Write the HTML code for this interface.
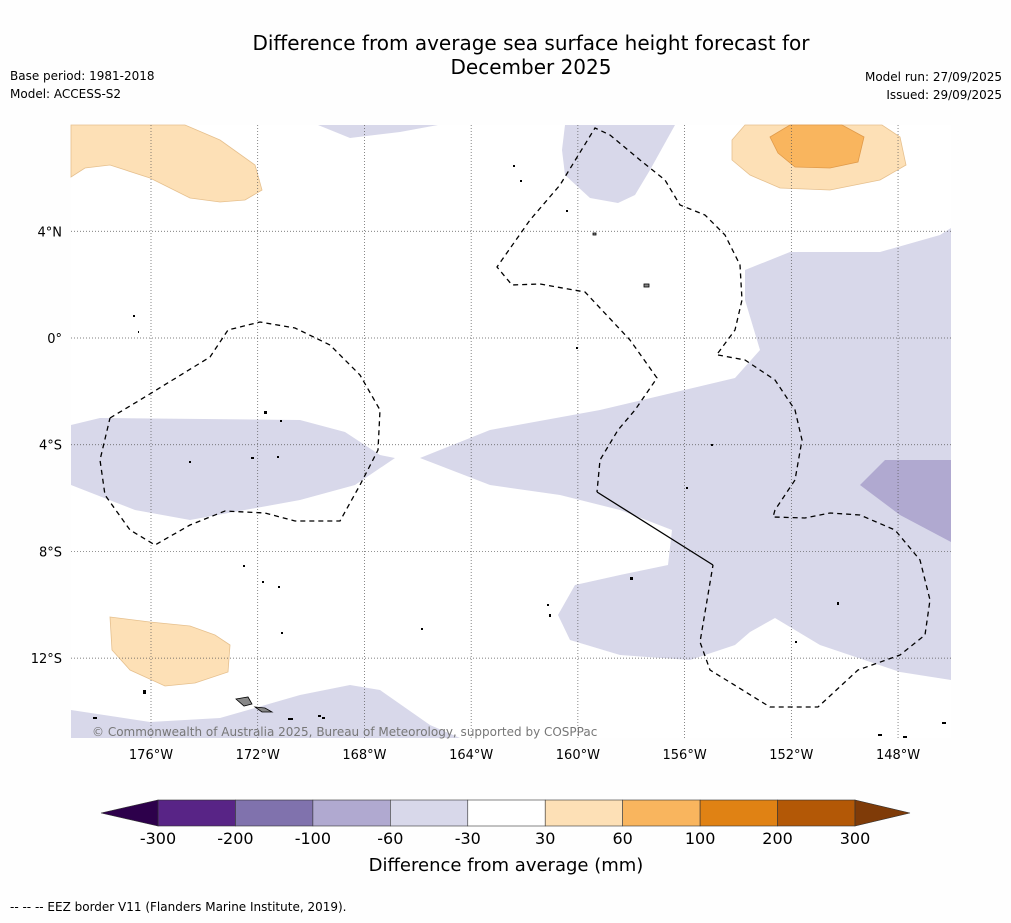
<!DOCTYPE html>
<html><head><meta charset="utf-8">
<style>
body{margin:0;background:#fefefe;font-family:"DejaVu Sans",sans-serif;}
svg text{font-family:"DejaVu Sans","Liberation Sans",sans-serif;}
</style></head>
<body>
<svg id="chart" width="1011" height="919" xmlns="http://www.w3.org/2000/svg">
<rect width="1011" height="919" fill="#fefefe"/>
<text x="531" y="50" font-size="20" text-anchor="middle">Difference from average sea surface height forecast for</text>
<text x="531" y="74" font-size="20" text-anchor="middle">December 2025</text>
<text x="10" y="80" font-size="12">Base period: 1981-2018</text>
<text x="10" y="98" font-size="12">Model: ACCESS-S2</text>
<text x="1002" y="81" font-size="12" text-anchor="end">Model run: 27/09/2025</text>
<text x="1002" y="99" font-size="12" text-anchor="end">Issued: 29/09/2025</text>

<g>
<rect x="71" y="125" width="880" height="613" fill="#ffffff"/>
<g stroke="none">
<polygon fill="#d8d8ea" points="420,458 490,430 600,410 735,378 760,350 745,300 745,270 790,252 880,252 940,235 951,228 951,680 900,672 820,645 775,618 750,632 735,645 690,660 620,655 570,640 558,615 575,585 620,575 668,565 672,530 620,510 560,495 490,485"/>
<polygon fill="#b0a9d0" points="860,485 885,460 951,460 951,542 900,515"/>
<polygon fill="#d8d8ea" points="565,125 675,125 650,170 635,195 618,203 590,198 565,175 562,150"/>
<polygon fill="#d8d8ea" points="318,125 438,125 400,132 350,138"/>
<polygon fill="#d8d8ea" points="71,425 100,418 300,420 345,432 380,455 395,458 355,485 300,500 190,520 135,510 71,485"/>
<polygon fill="#d8d8ea" points="71,710 150,722 220,718 300,695 350,685 380,690 430,725 460,738 71,738"/>
</g>
<g stroke="#e6c08e" stroke-width="0.8">
<polygon fill="#fde0b6" points="71,125 185,125 220,140 255,165 262,190 245,200 220,202 190,198 150,178 110,165 85,168 71,177"/>
<polygon fill="#fde0b6" points="110,617 150,622 190,626 215,635 230,645 228,672 195,683 165,686 130,670 112,650"/>
<polygon fill="#fde0b6" points="745,125 882,125 900,137 906,165 880,180 830,190 780,188 750,175 732,160 732,140"/>
<polygon fill="#f9b55e" stroke="#e09a4a" points="770,137 790,125 842,125 864,137 858,162 830,168 795,167 778,153"/>
</g>
<g id="grid" stroke="#555" stroke-width="0.7" stroke-dasharray="1,2"></g>
<g fill="none" stroke="#000" stroke-width="1.3" stroke-dasharray="5,4">
<polyline points="110,418 140,400 210,357 228,330 260,322 295,328 330,345 360,375 380,410 378,450 360,485 340,521 295,521 265,513 225,511 190,525 155,545 130,530 105,495 100,460 110,418"/>
<polyline points="718,353 735,330 742,300 740,265 725,235 705,215 680,205 665,180 640,160 610,135 595,128 560,185 530,220 497,267 512,285 540,284 585,292 630,340 657,378 635,410 618,430 600,460 597,492"/>
<polyline points="718,355 745,360 775,380 795,410 802,440 795,480 775,510 773,517 805,518 830,513 860,515 895,530 920,560 930,600 925,635 900,655 858,670 818,707 770,707 710,670 700,642 713,565"/>
</g>
<polyline points="597,492 713,565" fill="none" stroke="#000" stroke-width="1.3"/>
<g fill="#888" stroke="#000" stroke-width="0.8">
<polygon points="236,699 248,697 252,704 244,706"/>
<polygon points="255,707 265,708 272,712 262,712"/>
<rect x="644" y="284" width="5" height="3"/>
<rect x="593" y="233" width="3" height="2"/>
</g>
<g fill="#000">
<rect x="143" y="690" width="3" height="4"/><rect x="93" y="717" width="4" height="2"/>
<rect x="288" y="718" width="5" height="2"/><rect x="318" y="715" width="3" height="2"/><rect x="322" y="717" width="3" height="2"/>
<rect x="243" y="565" width="2" height="2"/><rect x="262" y="581" width="2" height="2"/><rect x="278" y="586" width="2" height="2"/>
<rect x="281" y="632" width="2" height="2"/><rect x="421" y="628" width="2" height="2"/><rect x="549" y="614" width="2" height="3"/>
<rect x="547" y="604" width="2" height="2"/><rect x="630" y="577" width="3" height="3"/><rect x="686" y="487" width="2" height="2"/>
<rect x="711" y="444" width="2" height="2"/><rect x="264" y="411" width="3" height="3"/><rect x="189" y="461" width="2" height="2"/>
<rect x="251" y="457" width="3" height="2"/><rect x="277" y="456" width="2" height="2"/><rect x="280" y="420" width="2" height="2"/>
<rect x="513" y="165" width="2" height="2"/><rect x="520" y="180" width="2" height="2"/><rect x="566" y="210" width="2" height="2"/>
<rect x="576" y="347" width="2" height="2"/><rect x="837" y="602" width="2" height="3"/><rect x="795" y="641" width="2" height="2"/>
<rect x="878" y="734" width="4" height="2"/><rect x="903" y="736" width="4" height="2"/><rect x="942" y="722" width="4" height="2"/>
<rect x="133" y="315" width="2" height="2"/><rect x="138" y="331" width="1" height="2"/>
</g>
<text x="92" y="736" font-size="12" fill="#777">© Commonwealth of Australia 2025, Bureau of Meteorology, supported by COSPPac</text>
</g>
<g id="axes"></g>
<g id="colorbar"></g>
<text x="506" y="871" font-size="18" text-anchor="middle">Difference from average (mm)</text>
<text x="10" y="911" font-size="12">--  --  -- EEZ border V11 (Flanders Marine Institute, 2019).</text>
</svg>
<script>
const lonTicks = [-176,-172,-168,-164,-160,-156,-152,-148];
const lonLabels = ["176°W","172°W","168°W","164°W","160°W","156°W","152°W","148°W"];
const latTicks = [4,0,-4,-8,-12];
const latLabels = ["4°N","0°","4°S","8°S","12°S"];
const cbLevels = [-300,-200,-100,-60,-30,30,60,100,200,300];
const cbColors = ["#582486","#8072ad","#b0a9d0","#d8d8ea","#ffffff","#fde0b6","#f9b55e","#e08214","#b35806"];
const cbExtColors = ["#2d004b","#7f3b08"];

const NS="http://www.w3.org/2000/svg";
const xLon = lon => 151 + (lon + 176) * 26.68;
const yLat = lat => 338 - lat * 26.68;
function mk(tag, attrs, parent){const e=document.createElementNS(NS,tag);for(const k in attrs)e.setAttribute(k,attrs[k]);parent.appendChild(e);return e;}
const grid=document.getElementById('grid'), axes=document.getElementById('axes');
lonTicks.forEach((lon,i)=>{
  const x=xLon(lon);
  const l=mk('line',{x1:x,x2:x,y1:125,y2:738},grid);
  
  
  const t=mk('text',{x:x,y:759,'font-size':13,'text-anchor':'middle'},axes);
  t.textContent=lonLabels[i];
  
  
});
latTicks.forEach((lat,i)=>{
  const y=yLat(lat);
  const l=mk('line',{x1:71,x2:951,y1:y,y2:y},grid);
  
  
  const t=mk('text',{x:62,y:y+5,'font-size':13,'text-anchor':'end'},axes);
  t.textContent=latLabels[i];
  
  
});
const cb=document.getElementById('colorbar');
const cbX0=158, cbX1=855, cbY=800, cbH=26;
const segW=(cbX1-cbX0)/cbColors.length;
cbColors.forEach((c,i)=>{
  const r=mk('rect',{x:cbX0+i*segW,y:cbY,width:segW,height:cbH,fill:c,stroke:'#333','stroke-width':0.6},cb);
  
  
});
const lt=mk('polygon',{points:`${cbX0},${cbY} ${cbX0},${cbY+cbH} 101,${cbY+cbH/2}`,fill:cbExtColors[0],stroke:'#333','stroke-width':0.6},cb);


const rt=mk('polygon',{points:`${cbX1},${cbY} ${cbX1},${cbY+cbH} 910,${cbY+cbH/2}`,fill:cbExtColors[1],stroke:'#333','stroke-width':0.6},cb);


cbLevels.forEach((v,i)=>{
  const t=mk('text',{x:cbX0+i*segW,y:844,'font-size':16,'text-anchor':'middle'},cb);
  t.textContent=String(v);
  
  
});
</script>
</body></html>
